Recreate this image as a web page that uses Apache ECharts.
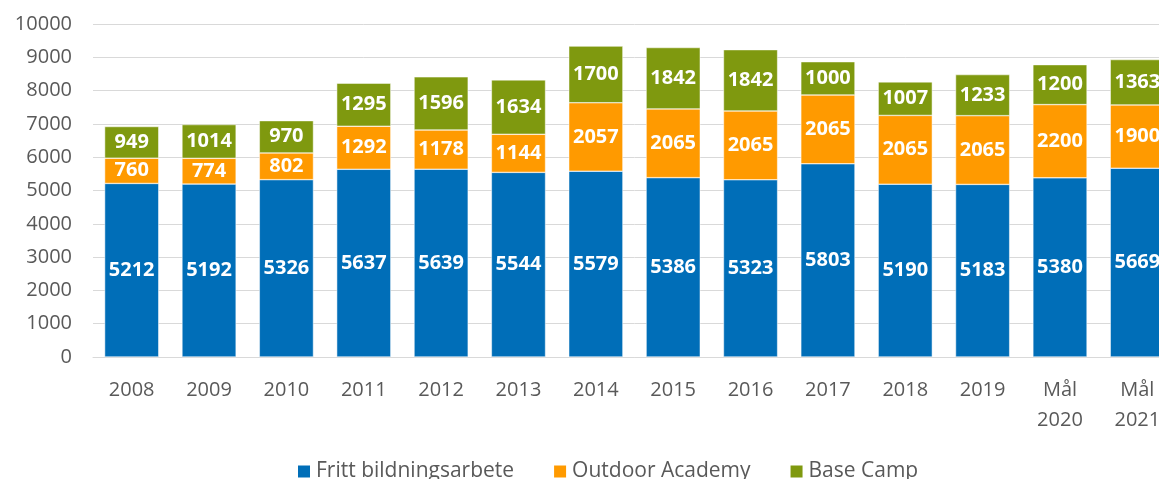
<!DOCTYPE html>
<html>
<head>
<meta charset="utf-8">
<script src="https://cdn.jsdelivr.net/npm/echarts@6/dist/echarts.min.js"></script>
<style>
  html, body { margin: 0; padding: 0; background: #fff; overflow: hidden; }
  /* the source image crops the right edge of the chart, so the canvas runs a bit wider than the window */
  #chart { width: 1176px; height: 479px; }
</style>
</head>
<body>
<div id="chart"></div>
<script>
const categories = ['2008', '2009', '2010', '2011', '2012', '2013', '2014', '2015', '2016', '2017', '2018', '2019', 'Mål\n2020', 'Mål\n2021']
const frittBildning = [5212, 5192, 5326, 5637, 5639, 5544, 5579, 5386, 5323, 5803, 5190, 5183, 5380, 5669]
const outdoorAcademy = [760, 774, 802, 1292, 1178, 1144, 2057, 2065, 2065, 2065, 2065, 2065, 2200, 1900]
const baseCamp = [949, 1014, 970, 1295, 1596, 1634, 1700, 1842, 1842, 1000, 1007, 1233, 1200, 1363]

const font = 'Open Sans, Noto Sans, sans-serif'

const chart = echarts.init(document.getElementById('chart'))

function barSeries(name, data, color) {
    return {
        name: name,
        type: 'bar',
        stack: 'total',
        data: data,
        barWidth: '70%',
        itemStyle: {
            color: color,
            borderColor: '#ffffff',
            borderWidth: 0.5
        },
        label: {
            show: true,
            position: 'inside',
            color: '#fff',
            fontWeight: 'bold',
            fontSize: 20,
            fontFamily: font
        }
    }
}

chart.setOption({
    animation: false,
    grid: {
        left: 93,
        right: 0,
        top: 24,
        bottom: 122
    },
    // legend sits low, partly cut off by the bottom edge like in the source
    legend: {
        top: 456,
        left: 291,
        itemWidth: 14,
        itemHeight: 14,
        itemGap: 38,
        icon: 'rect',
        textStyle: {
            color: '#595959',
            fontSize: 21,
            fontFamily: font
        },
        data: ['Fritt bildningsarbete', 'Outdoor Academy', 'Base Camp']
    },
    xAxis: {
        type: 'category',
        data: categories,
        axisLine: { lineStyle: { color: '#D9D9D9' } },
        axisTick: { show: false },
        axisLabel: {
            color: '#595959',
            fontSize: 20,
            fontFamily: font,
            margin: 18,
            lineHeight: 30
        }
    },
    yAxis: {
        type: 'value',
        min: 0,
        max: 10000,
        interval: 1000,
        axisLine: { show: false },
        axisTick: { show: false },
        splitLine: { lineStyle: { color: '#D9D9D9', width: 1 } },
        axisLabel: {
            color: '#595959',
            fontSize: 20,
            fontFamily: font,
            margin: 21,
            formatter: v => String(v)
        }
    },
    series: [
        barSeries('Fritt bildningsarbete', frittBildning, '#006EB8'),
        barSeries('Outdoor Academy', outdoorAcademy, '#FF9A00'),
        barSeries('Base Camp', baseCamp, '#7F990F')
    ]
})

window.addEventListener('resize', () => {
    chart.resize()
})
</script>
</body>
</html>
